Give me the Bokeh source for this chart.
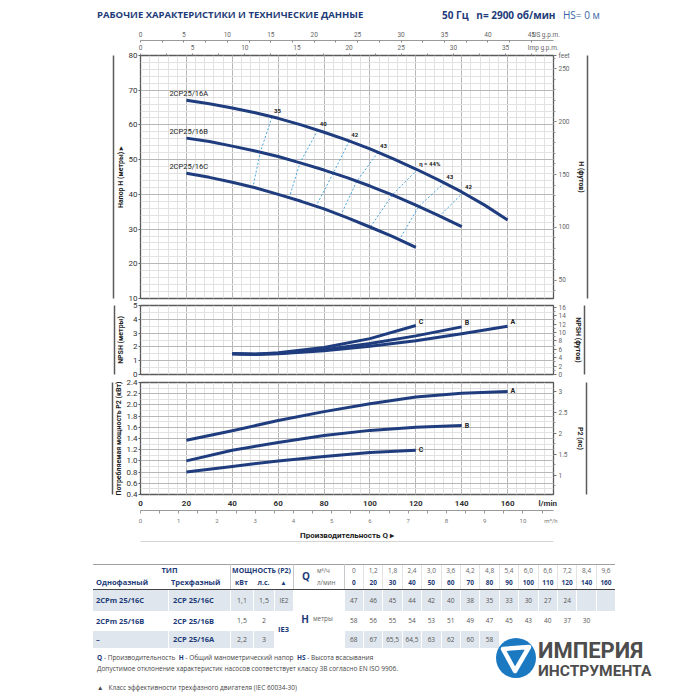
import math
from bokeh.plotting import figure
from bokeh.models import (LinearAxis, Range1d, FixedTicker, SingleIntervalTicker, Grid, Div,
                          PrintfTickFormatter)
from bokeh.layouts import column
from bokeh.embed import file_html
from bokeh.resources import INLINE
from bokeh.core.properties import value

# ------------------------------------------------------------------ data
# Head curves H (m) vs Q (l/min)
q_head_a = [20, 30, 40, 50, 60, 70, 80, 90, 100, 110, 120, 130, 140, 150, 160]
h_head_a = [67.1, 66.1, 64.9, 63.5, 61.9, 60.0, 57.9, 55.6, 53.1, 50.3, 47.3, 44.1, 40.7, 36.9, 32.6]
q_head_b = [20, 30, 40, 50, 60, 70, 80, 90, 100, 110, 120, 130, 140]
h_head_b = [56.2, 55.2, 53.9, 52.5, 50.9, 49.0, 47.0, 44.8, 42.4, 39.8, 36.9, 33.9, 30.7]
q_head_c = [20, 30, 40, 50, 60, 70, 80, 90, 100, 110, 120]
h_head_c = [46.1, 44.9, 43.5, 41.9, 40.0, 38.0, 35.8, 33.3, 30.6, 27.8, 24.7]
curve_names = ["2CP25/16A", "2CP25/16B", "2CP25/16C"]

# Iso-efficiency lines (points on curves A, B, C)
eff_labels = ["35", "40", "42", "43", "η = 44%", "43", "42"]
eff_q = [[57.3, 52.2, 49.0], [77.3, 69.5, 64.8], [91, 84, 76.5], [103.5, 94.3, 87.3],
         [120.6, 109.8, 100.2], [132.4, 121.3, 112.8], [140.6, 130.4]]
eff_h = [[62.3, 52.1, 42.1], [58.5, 49.1, 39.0], [55.35, 46.1, 36.6], [52.1, 43.8, 34.0],
         [47.1, 39.85, 30.6], [43.3, 36.5, 26.9], [40.5, 33.8]]

# NPSH (m)
q_npsh_a = [40, 50, 60, 80, 100, 120, 140, 160]
npsh_a = [1.5, 1.46, 1.5, 1.72, 2.05, 2.45, 2.95, 3.5]
q_npsh_b = [40, 50, 60, 80, 100, 120, 140]
npsh_b = [1.5, 1.46, 1.52, 1.8, 2.25, 2.8, 3.45]
q_npsh_c = [40, 50, 60, 80, 100, 120]
npsh_c = [1.5, 1.47, 1.57, 1.95, 2.6, 3.55]

# Power P2 (kW)
q_pow_a = [20, 40, 60, 80, 100, 120, 140, 160]
pow_a = [1.37, 1.54, 1.72, 1.88, 2.02, 2.14, 2.21, 2.24]
q_pow_b = [20, 40, 60, 80, 100, 120, 140]
pow_b = [1.0, 1.19, 1.33, 1.455, 1.545, 1.6, 1.63]
q_pow_c = [20, 40, 60, 80, 100, 120]
pow_c = [0.8, 0.9, 1.0, 1.08, 1.15, 1.19]
end_labels = ["A", "B", "C"]

# Axis tick values
lmin_ticks = [0, 20, 40, 60, 80, 100, 120, 140, 160]
m3h_ticks = [0, 1, 2, 3, 4, 5, 6, 7, 8, 9, 10]
us_ticks = [0, 5, 10, 15, 20, 25, 30, 35, 40, 45]
imp_ticks = [0, 5, 10, 15, 20, 25, 30, 35]
head_ticks = [10, 20, 30, 40, 50, 60, 70, 80]
feet_ticks = [50, 100, 150, 200, 250]
npsh_ticks = [0, 1, 2, 3, 4, 5]
npsh_ft_ticks = [0, 2, 4, 6, 8, 10, 12, 14, 16]
pow_ticks = [0.4, 0.6, 0.8, 1.0, 1.2, 1.4, 1.6, 1.8, 2.0, 2.2, 2.4]
hp_ticks = [1, 1.5, 2, 2.5, 3]

# Table
tbl_q_m3h = ["0", "1,2", "1,8", "2,4", "3,0", "3,6", "4,2", "4,8", "5,4", "6,0", "6,6", "7,2", "8,4", "9,6"]
tbl_q_lmin = ["0", "20", "30", "40", "50", "60", "70", "80", "90", "100", "110", "120", "140", "160"]
tbl_h_c = ["47", "46", "45", "44", "42", "40", "38", "35", "33", "30", "27", "24"]
tbl_h_b = ["58", "56", "55", "54", "53", "51", "49", "47", "45", "43", "40", "37", "30"]
tbl_h_a = ["68", "67", "65,5", "64,5", "63", "62", "60", "58"]
models_single = ["2CPm 25/16C", "2CPm 25/16B", "–"]
models_three = ["2CP 25/16C", "2CP 25/16B", "2CP 25/16A"]
power_kw = ["1,1", "1,5", "2,2"]
power_hp = ["1,5", "2", "3"]

# unit conversions
L_PER_US_GAL = 3.78541
L_PER_IMP_GAL = 4.54609
FT_PER_M = 3.28084
KW_PER_HP = 0.7457
M3H_PER_LMIN = 0.06

# ------------------------------------------------------------------ style
FONT = "Roboto"
TFONT = "Open Sans"
NAVY = "#1d3b78"
CURVE = "#1f3d7e"
ISO = "#4aa6e0"
FRAME = "#5a5a5a"
GRID_MAJ = "#b8b8b8"
GRID_MIN = "#e2e2e2"
Q_MAX = 180


def base_fig(height, yr, top, bottom, y_interval, y_minor, transparent=False, margin=0):
    p = figure(width=684, height=height, x_range=Range1d(0, Q_MAX), y_range=yr,
               output_backend="svg", toolbar_location=None,
               x_axis_location=None, y_axis_location=None,
               min_border_left=132, min_border_right=139,
               min_border_top=top, min_border_bottom=bottom, margin=margin)
    p.outline_line_color = FRAME
    p.outline_line_width = 1.3
    p.background_fill_color = "white"
    p.border_fill_color = "white"
    if transparent:
        p.border_fill_alpha = 0
    for g in p.grid:
        g.visible = False
    p.add_layout(Grid(dimension=0, ticker=SingleIntervalTicker(interval=20, num_minor_ticks=5),
                      grid_line_color=GRID_MAJ, minor_grid_line_color=GRID_MIN))
    p.add_layout(Grid(dimension=1, ticker=SingleIntervalTicker(interval=y_interval, num_minor_ticks=y_minor),
                      grid_line_color=GRID_MAJ, minor_grid_line_color=GRID_MIN))
    return p


def bar_axis(p, side, **kw):
    b = LinearAxis(ticker=FixedTicker(ticks=[]), axis_line_color=FRAME, axis_line_width=1.5,
                   major_tick_out=0, minor_tick_out=0, **kw)
    p.add_layout(b, side)


def left_axes(p, ticks, label, standoff, formatter=None):
    ax = LinearAxis(ticker=FixedTicker(ticks=ticks), axis_label=label, axis_label_standoff=standoff)
    if formatter is not None:
        ax.formatter = formatter
    ax.axis_line_color = None
    ax.major_tick_out = 2
    ax.major_tick_in = 0
    ax.minor_tick_out = 0
    ax.major_tick_line_color = FRAME
    ax.major_label_standoff = 1
    ax.major_label_text_font = FONT
    ax.major_label_text_font_size = "8px"
    ax.major_label_text_color = "#333333"
    ax.axis_label_text_font = FONT
    ax.axis_label_text_font_style = "bold"
    ax.axis_label_text_font_size = "7px"
    ax.axis_label_text_color = "#222222"
    p.add_layout(ax, "left")
    bar_axis(p, "left")


def right_axes(p, name, rng, ticks, minor, label, standoff, overrides=None):
    p.extra_y_ranges = {name: rng}
    ax = LinearAxis(y_range_name=name, ticker=FixedTicker(ticks=ticks, minor_ticks=minor),
                    axis_label=label, axis_label_standoff=standoff)
    if overrides:
        ax.major_label_overrides = overrides
    ax.axis_line_color = None
    ax.major_tick_out = 3
    ax.major_tick_in = 0
    ax.minor_tick_out = 2
    ax.minor_tick_in = 0
    ax.major_tick_line_color = "#777777"
    ax.minor_tick_line_color = "#999999"
    ax.major_label_standoff = 2
    ax.major_label_text_font = FONT
    ax.major_label_text_font_size = "6.5px"
    ax.major_label_text_color = "#666666"
    ax.axis_label_text_font = FONT
    ax.axis_label_text_font_style = "bold"
    ax.axis_label_text_font_size = "7px"
    ax.axis_label_text_color = "#222222"
    p.add_layout(ax, "right")
    bar_axis(p, "right", y_range_name=name)


def curve(p, xs, ys, lab=None, xo=3, yo=0):
    p.line(xs, ys, line_width=3, line_color=CURVE, line_cap="butt", line_join="round")
    if lab is not None:
        p.text(x=[xs[-1]], y=[ys[-1]], text=[lab], x_offset=xo, y_offset=yo,
               text_font=value(FONT), text_font_style="bold", text_font_size="7px",
               text_color="#222222", text_baseline="middle", text_align="left")


# ------------------------------------------------------------------ head chart
p1 = base_fig(281, Range1d(10, 80), 31, 7, 10, 5)
p1.extra_x_ranges = {"imp": Range1d(0, Q_MAX / L_PER_IMP_GAL), "us": Range1d(0, Q_MAX / L_PER_US_GAL)}

imp_ax = LinearAxis(x_range_name="imp",
                    ticker=FixedTicker(ticks=imp_ticks + [38.6],
                                       minor_ticks=[i * 2.5 for i in range(16)]),
                    major_label_overrides={38.6: "Imp g.p.m."})
us_ax = LinearAxis(x_range_name="us",
                   ticker=FixedTicker(ticks=us_ticks + [46.7],
                                      minor_ticks=[i * 2.5 for i in range(19)]),
                   major_label_overrides={46.7: "US g.p.m."})
for ax in (imp_ax, us_ax):
    ax.major_tick_out = 0
    ax.major_tick_in = 0
    ax.minor_tick_line_color = "#888888"
    ax.major_label_standoff = 2
    ax.major_label_text_font = FONT
    ax.major_label_text_font_size = "6.5px"
    ax.major_label_text_color = "#666666"
imp_ax.axis_line_color = None
imp_ax.minor_tick_out = 2
imp_ax.minor_tick_in = 0
us_ax.axis_line_color = "#9a9a9a"
us_ax.minor_tick_out = 0
us_ax.minor_tick_in = 2
p1.add_layout(imp_ax, "above")
p1.add_layout(us_ax, "above")

left_axes(p1, head_ticks, "Напор H (метры) ▸", 1)
right_axes(p1, "ft", Range1d(10 * FT_PER_M, 80 * FT_PER_M), feet_ticks + [262],
           list(range(40, 261, 10)), "H (футов)", 4, {262: "feet"})

p1.multi_line(xs=eff_q, ys=eff_h, line_color=ISO, line_width=1, line_dash="2 2")
curve(p1, q_head_a, h_head_a)
curve(p1, q_head_b, h_head_b)
curve(p1, q_head_c, h_head_c)
p1.text(x=[q_head_a[0], q_head_b[0], q_head_c[0]], y=[h_head_a[0], h_head_b[0], h_head_c[0]],
        text=curve_names, x_offset=-17, y_offset=-7, text_font=value(FONT),
        text_font_size="7.5px", text_color="#222222", text_baseline="middle", text_align="left")
p1.text(x=[q[0] for q in eff_q], y=[h[0] for h in eff_h], text=eff_labels,
        x_offset=2, y_offset=-6, text_font=value(FONT), text_font_style="bold",
        text_font_size="6px", text_color="#222222", text_baseline="middle", text_align="left")

# ------------------------------------------------------------------ NPSH chart
p2 = base_fig(83, Range1d(0, 5), 7, 7, 1, 2, transparent=True, margin=(-7, 0, 0, 0))
left_axes(p2, npsh_ticks, "NPSH (метры)", 5)
right_axes(p2, "ft", Range1d(0, 5 * FT_PER_M), npsh_ft_ticks, [1, 3, 5, 7, 9, 11, 13, 15],
           "NPSH (футов)", 5)
curve(p2, q_npsh_a, npsh_a, end_labels[0], 3, -4)
curve(p2, q_npsh_b, npsh_b, end_labels[1], 3, -4)
curve(p2, q_npsh_c, npsh_c, end_labels[2], 3, -4)

# ------------------------------------------------------------------ power chart
p3 = base_fig(168, Range1d(0.4, 2.4), 8, 46, 0.2, 2, transparent=True, margin=(-7, 0, 0, 0))
left_axes(p3, pow_ticks, "Потребляемая мощность P2 (кВт)", 0, PrintfTickFormatter(format="%.1f"))
right_axes(p3, "hp", Range1d(0.4 / KW_PER_HP, 2.4 / KW_PER_HP), hp_ticks,
           [0.75, 1.25, 1.75, 2.25, 2.75], "P2 (лс)", 5, {1: "1", 2: "2", 3: "3"})
curve(p3, q_pow_a, pow_a, end_labels[0])
curve(p3, q_pow_b, pow_b, end_labels[1])
curve(p3, q_pow_c, pow_c, end_labels[2])

bot = LinearAxis(ticker=FixedTicker(ticks=lmin_ticks + [177.5]), major_label_overrides={177.5: "l/min"})
bot.axis_line_color = None
bot.major_tick_out = 0
bot.major_tick_in = 0
bot.minor_tick_out = 0
bot.major_label_standoff = 4
bot.major_label_text_font = FONT
bot.major_label_text_font_style = "bold"
bot.major_label_text_font_size = "8px"
bot.major_label_text_color = "#333333"
p3.add_layout(bot, "below")

p3.extra_x_ranges = {"m3h": Range1d(0, Q_MAX * M3H_PER_LMIN)}
m3 = LinearAxis(x_range_name="m3h",
                ticker=FixedTicker(ticks=m3h_ticks + [10.73], minor_ticks=[i * 0.5 for i in range(22)]),
                major_label_overrides={10.73: "m³/h"}, axis_label="Производительность Q ▸",
                axis_label_standoff=4)
m3.axis_line_color = "#9a9a9a"
m3.major_tick_out = 0
m3.major_tick_in = 0
m3.minor_tick_out = 3
m3.minor_tick_in = 0
m3.minor_tick_line_color = "#999999"
m3.major_label_standoff = 3
m3.major_label_text_font = FONT
m3.major_label_text_font_size = "6px"
m3.major_label_text_color = "#777777"
m3.axis_label_text_font = FONT
m3.axis_label_text_font_style = "bold"
m3.axis_label_text_font_size = "8px"
m3.axis_label_text_color = "#222222"
p3.add_layout(m3, "below")
bar_axis(p3, "below")

# ------------------------------------------------------------------ title
title_html = (
    '<div style="position:relative;width:684px;height:16px;font-family:\'Open Sans\';">'
    '<span style="position:absolute;left:89px;top:-1px;line-height:16px;font-size:9.5px;'
    f'font-weight:bold;color:{NAVY};white-space:nowrap;">РАБОЧИЕ ХАРАКТЕРИСТИКИ И ТЕХНИЧЕСКИЕ ДАННЫЕ</span>'
    '<span style="position:absolute;left:434px;top:-1px;line-height:16px;font-size:10px;'
    f'font-weight:bold;color:{NAVY};white-space:nowrap;">50 Гц&nbsp;&nbsp;&nbsp;n= 2900 об/мин</span>'
    '<span style="position:absolute;left:555px;top:-1px;line-height:16px;font-size:10px;'
    'font-weight:normal;color:#3b63a6;white-space:nowrap;">HS= 0 м</span></div>'
)
title_div = Div(text=title_html, width=684, height=16, margin=0)

# ------------------------------------------------------------------ table + footer
OX, OY = 8, 542
parts = []


def box(x, y, w, h, html="", size=7.0, weight="normal", color="#4a4a4a", align="center",
        bg=None, extra="", font=TFONT):
    s = (f"position:absolute;left:{x - OX:.1f}px;top:{y - OY:.1f}px;width:{w:.1f}px;height:{h:.1f}px;"
         f"line-height:{h:.1f}px;text-align:{align};font-family:'{font}';font-size:{size}px;"
         f"font-weight:{weight};color:{color};white-space:nowrap;box-sizing:border-box;")
    if bg:
        s += f"background:{bg};"
    s += extra
    parts.append(f'<div style="{s}">{html}</div>')


X0, X1, X2, X3, X4, X5, XV, PITCH = 93, 168, 230, 253, 274, 293, 343.6, 19.4
XEND = XV + PITCH * len(tbl_q_lmin)
SHADE = "#dfe6ed"
WSEP = "border-left:1px solid #ffffff;"
RH1, RH2 = (564, 13), (577, 11.5)
body_rows = [(589.5, 21.5), (611, 20), (631, 17)]
shaded = [True, False, True]

# header
box(X0 + 16, RH1[0], X2 - X0 - 16, RH1[1], "ТИП", 7.5, "bold", NAVY)
box(X2, RH1[0], X5 - X2, RH1[1], "МОЩНОСТЬ (P2)", 7, "bold", NAVY)
box(297, RH1[0], 18, RH1[1] + RH2[1], "Q", 10, "bold", NAVY)
box(317, RH1[0], 26, RH1[1], "м³/ч", 6.3, color="#666666", align="left")
box(317, RH2[0], 26, RH2[1], "л/мин", 6.3, color="#666666", align="left")
box(X0 + 3, RH2[0], X1 - X0, RH2[1], "Однофазный", 7.5, "bold", NAVY, "left")
box(X1 + 3, RH2[0], X2 - X1, RH2[1], "Трехфазный", 7.5, "bold", NAVY, "left")
box(X2, RH2[0], X3 - X2, RH2[1], "кВт", 7, "bold", NAVY)
box(X3, RH2[0], X4 - X3, RH2[1], "л.с.", 7, "bold", NAVY)
box(X4, RH2[0], X5 - X4, RH2[1], "▲", 6.5, "bold", NAVY)
for j, (m3v, lv) in enumerate(zip(tbl_q_m3h, tbl_q_lmin)):
    xj = XV + j * PITCH
    box(xj, RH1[0], PITCH, RH1[1], m3v, 6.5, color="#666666", extra="border-left:1px solid #e4e4e4;")
    box(xj, RH2[0], PITCH, RH2[1], lv, 6.5, "bold", NAVY, extra="border-left:1px solid #e4e4e4;")

# body
tbl_rows = [tbl_h_c, tbl_h_b, tbl_h_a]
for i, (y, h) in enumerate(body_rows):
    bg = SHADE if shaded[i] else None
    box(X0, y, X1 - X0, h, models_single[i], 7.5, "bold", NAVY, "left", bg, "padding-left:3px;")
    box(X1, y, X2 - X1, h, models_three[i], 7.5, "bold", NAVY, "left", bg, WSEP + "padding-left:4px;")
    box(X2, y, X3 - X2, h, power_kw[i], 7, color="#555555", bg=bg, extra=WSEP)
    box(X3, y, X4 - X3, h, power_hp[i], 7, color="#555555", bg=bg, extra=WSEP)
    vals = tbl_rows[i]
    for j in range(len(tbl_q_lmin)):
        if i == 2 and j >= len(vals):
            continue
        txt = vals[j] if j < len(vals) else ""
        box(XV + j * PITCH, y, PITCH, h, txt, 6.5, color="#555555", bg=bg, extra=WSEP)
box(X4, body_rows[0][0], X5 - X4, body_rows[0][1], "IE2", 6.5, color="#555555", bg=SHADE, extra=WSEP)
box(X4, body_rows[1][0], X5 - X4, body_rows[1][1] + body_rows[2][1], "IE3", 7.5, "bold", NAVY)
yb0 = body_rows[0][0]
hb = body_rows[2][0] + body_rows[2][1] - yb0
box(297, yb0, 16, hb, "H", 10, "bold", NAVY)
box(313, yb0, 30, hb, "метры", 6.3, color="#666666", align="left")

# rules
box(X0, 563.5, XEND - X0, 1, bg="#a0a0a0")
box(X0, 588.5, XEND - X0, 1, bg="#444444")
for xl in (X2, X5, XV):
    box(xl, 564, 1, 24.5, bg="#c8c8c8")

# footer notes
G = "#444444"
box(97, 652, 400, 12,
    f'<b style="color:{NAVY}">Q</b> - Производительность&nbsp;&nbsp;<b style="color:{NAVY}">H</b> - '
    f'Общий манометрический напор&nbsp;&nbsp;<b style="color:{NAVY}">HS</b> - Высота всасывания',
    6.5, color=G, align="left")
box(97, 662.5, 400, 12,
    "Допустимое отклонение характеристик насосов соответствует классу 3B согласно EN ISO 9906.",
    6.5, color=G, align="left")
box(97, 682, 400, 12, "▲&nbsp;&nbsp;&nbsp;Класс эффективности трехфазного двигателя (IEC 60034-30)",
    6.5, color=G, align="left")

# logo
parts.append(
    f'<svg style="position:absolute;left:{496 - OX}px;top:{638 - OY}px;" width="40" height="40" viewBox="0 0 40 40">'
    '<circle cx="20" cy="20" r="20" fill="#1b79c2"/>'
    '<path d="M7 11 L33 9 L19 33 Z" fill="none" stroke="#ffffff" stroke-width="4.5" stroke-linejoin="round"/>'
    '</svg>')
box(538, 639.5, 150, 21, "ИМПЕРИЯ", 22, "bold", "#4d4d4d", "left", font="Roboto")
box(538, 665, 150, 13, "ИНСТРУМЕНТА", 15.5, "bold", "#4d4d4d", "left", font="Roboto")

table_html = ('<div style="position:relative;width:684px;height:150px;overflow:hidden;">'
              + "".join(parts) + "</div>")
table_div = Div(text=table_html, width=684, height=150, margin=0)

layout = column(title_div, p1, p2, p3, table_div, spacing=0, margin=(8, 0, 0, 8))

with open("out.html", "w") as f:
    f.write(file_html(layout, INLINE))
